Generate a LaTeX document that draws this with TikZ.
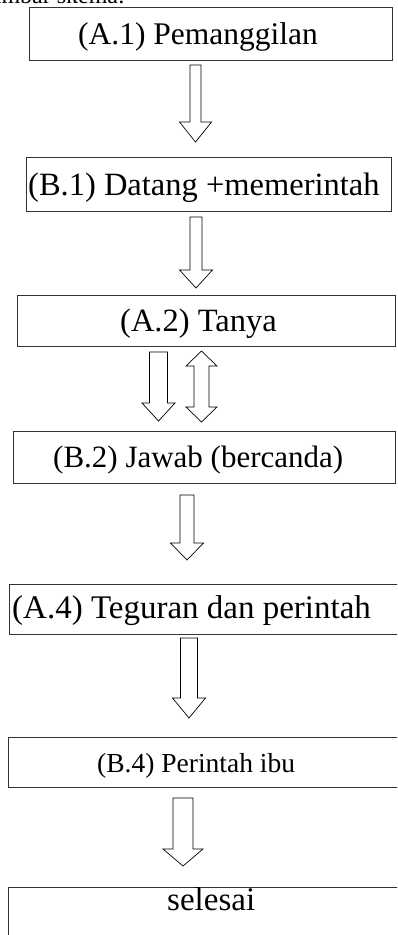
\documentclass[tikz,border=0pt]{standalone}
\usepackage{fontspec}
\setmainfont{Liberation Serif}

% hollow block arrow pointing down: centre x, top, head base, tip, half shaft, half head
\newcommand{\blockdown}[7]{%
  \draw[blockarrow] ({#2-#6},#3) -- ({#2+#6},#3) -- ({#2+#6},#4) -- ({#2+#7},#4)
    -- (#2,#5) -- ({#2-#7},#4) -- ({#2-#6},#4) -- cycle;
  \coordinate (#1) at (#2,#5);}
% hollow double-headed block arrow: centre x, top tip, upper head base, lower head base, bottom tip, half shaft, half head
\newcommand{\blockupdown}[8]{%
  \draw[blockarrow] (#2,#3) -- ({#2+#8},#4) -- ({#2+#7},#4) -- ({#2+#7},#5) -- ({#2+#8},#5)
    -- (#2,#6) -- ({#2-#8},#5) -- ({#2-#7},#5) -- ({#2-#7},#4) -- ({#2-#8},#4) -- cycle;
  \coordinate (#1) at (#2,#6);}

\begin{document}
\begin{tikzpicture}[x=1pt,y=-1pt,
    stepbox/.style={draw=black!80, line width=0.9pt, fill=white},
    blockarrow/.style={draw=black, line width=0.7pt, fill=white, line join=miter},
    label/.style={inner sep=0pt, anchor=base west, text=black}]
  \useasboundingbox (0,0) rectangle (397,935);
  \clip (0,0) rectangle (397,935);

  % heading, mostly above the page edge
  \node[inner sep=0pt, anchor=base east] (head) at (125,3.5)
    {\fontsize{24}{28}\selectfont Gambar skema:};

  % process boxes
  \draw[stepbox] (29,7) rectangle (392,60);
  \draw[stepbox] (26,157) rectangle (391,211);
  \draw[stepbox] (17,295) rectangle (395.5,346);
  \draw[stepbox] (13,431) rectangle (395,483);
  \draw[stepbox] (9,584) rectangle (402,634);
  \draw[stepbox] (8,737) rectangle (402,787);
  \draw[stepbox] (8,887) rectangle (402,945);

  % box labels
  \node[label] (t1) at (78,44) {\fontsize{31.5}{36}\selectfont (A.1) Pemanggilan};
  \node[label] (t2) at (28,195) {\fontsize{32.5}{36}\selectfont (B.1) Datang +memerintah};
  \node[label] (t3) at (120,331) {\fontsize{32.5}{36}\selectfont (A.2) Tanya};
  \node[label] (t4) at (53,467) {\fontsize{31}{36}\selectfont (B.2) Jawab (bercanda)};
  \node[label] (t5) at (12,618) {\fontsize{33}{36}\selectfont (A.4) Teguran dan perintah};
  \node[label] (t6) at (97,772) {\fontsize{27.5}{36}\selectfont (B.4) Perintah ibu};
  \node[label] (t7) at (167,910) {\fontsize{33}{36}\selectfont selesai};

  % flow arrows
  \blockdown{a1}{195.5}{65}{122}{142}{5.5}{16}
  \blockdown{a2}{196}{217}{270}{288}{6}{16.5}
  \blockdown{a3}{158.5}{352}{403}{421}{9}{16.5}
  \blockupdown{a3b}{201.5}{351}{366}{407}{422}{7.5}{15.5}
  \blockdown{a4}{187}{495}{543}{560}{7}{16.5}
  \blockdown{a5}{189}{638}{698}{718}{8.5}{16.5}
  \blockdown{a6}{183}{798}{849}{866}{10}{20}
\end{tikzpicture}
\end{document}
